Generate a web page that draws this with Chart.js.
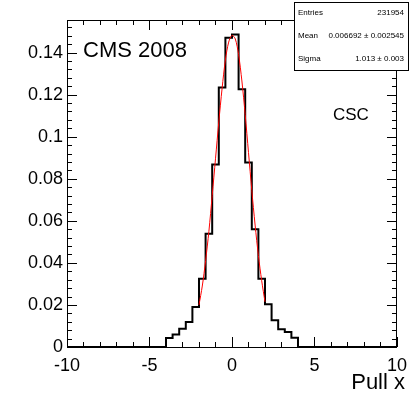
<!DOCTYPE html>
<html>
<head>
<meta charset="utf-8">
<script src="https://cdn.jsdelivr.net/npm/chart.js@4.4.1/dist/chart.umd.min.js"></script>
<style>
  body { margin: 0; background: #fff; }
</style>
</head>
<body>
<canvas id="pullChart" width="415" height="399"></canvas>
<script>
// histogram: low edge of each bin (0.4 wide) and its content, last point closes the line
const binLowEdges = [-10, -4.0, -3.6, -3.2, -2.8, -2.4, -2.0, -1.6, -1.2, -0.8, -0.4,
  0.0, 0.4, 0.8, 1.2, 1.6, 2.0, 2.4, 2.8, 3.2, 3.6, 4.0, 10];
const binContents = [0, 0.0043, 0.0059, 0.0087, 0.0119, 0.0190, 0.0325, 0.0539, 0.0868, 0.1234, 0.1470,
  0.1486, 0.1226, 0.0877, 0.0560, 0.0325, 0.0203, 0.0127, 0.0084, 0.0071, 0.0044, 0, 0];

// gaussian fit curve
const fitX = [-2.0, -1.8, -1.6, -1.4, -1.2, -1.0, -0.8, -0.6, -0.4, -0.2, 0.0,
  0.2, 0.4, 0.6, 0.8, 1.0, 1.2, 1.4, 1.6, 1.8, 2.0];
const fitY = [0.0200, 0.0290, 0.0410, 0.0550, 0.0720, 0.0895, 0.1070, 0.1230, 0.1365, 0.1450, 0.1482,
  0.1465, 0.1390, 0.1265, 0.1105, 0.0925, 0.0745, 0.0580, 0.0435, 0.0315, 0.0215];

const xTickValues = [-10, -5, 0, 5, 10];
const yTickValues = [0, 0.02, 0.04, 0.06, 0.08, 0.1, 0.12, 0.14];
const yMax = 0.1555;

const statsRows = [
  ['Entries', '231954'],
  ['Mean', '0.006692 \u00b1 0.002545'],
  ['Sigma', '1.013 \u00b1 0.003']
];

const FONT = "'Liberation Sans', Arial, Helvetica, sans-serif";

// ROOT-like frame: inward ticks on all four sides, stats box and labels
const rootFrame = {
  id: 'rootFrame',
  afterDatasetsDraw(chart) {
    const { ctx, chartArea: a, scales: { x, y } } = chart;
    ctx.save();
    ctx.strokeStyle = '#000';
    ctx.lineWidth = 1;
    ctx.strokeRect(a.left + 0.5, a.top + 0.5, a.right - a.left - 1, a.bottom - a.top);

    ctx.beginPath();
    for (let v = -10; v <= 10; v++) {
      const px = Math.round(x.getPixelForValue(v)) + 0.5;
      const len = xTickValues.includes(v) ? 10 : 5;
      ctx.moveTo(px, a.bottom); ctx.lineTo(px, a.bottom - len);
      ctx.moveTo(px, a.top); ctx.lineTo(px, a.top + len);
    }
    for (let k = 0; k * 0.004 <= yMax; k++) {
      const py = Math.round(y.getPixelForValue(k * 0.004)) + 0.5;
      const len = k % 5 === 0 ? 10 : 5;
      ctx.moveTo(a.left, py); ctx.lineTo(a.left + len, py);
      ctx.moveTo(a.right, py); ctx.lineTo(a.right - len, py);
    }
    ctx.stroke();

    ctx.fillStyle = '#000';
    ctx.textBaseline = 'middle';
    ctx.textAlign = 'left';
    ctx.font = '22px ' + FONT;
    ctx.fillText('CMS 2008', 83, 51);
    ctx.font = '17px ' + FONT;
    ctx.fillText('CSC', 333, 115);
    // axis title, right-aligned a little past the frame as in ROOT
    ctx.textAlign = 'right';
    ctx.font = '22px ' + FONT;
    ctx.fillText('Pull x', 405, 383);
    ctx.restore();
  },
  afterDraw(chart) {
    const { ctx } = chart;
    const bx = 294, by = 2, bw = 114, bh = 68;
    ctx.save();
    ctx.fillStyle = '#fff';
    ctx.fillRect(bx, by, bw, bh);
    ctx.strokeStyle = '#000';
    ctx.lineWidth = 1;
    ctx.strokeRect(bx + 0.5, by + 0.5, bw, bh);
    ctx.fillStyle = '#000';
    ctx.font = '8px ' + FONT;
    ctx.textBaseline = 'middle';
    statsRows.forEach((row, i) => {
      const ty = by + 11 + i * 23;
      ctx.textAlign = 'left';
      ctx.fillText(row[0], bx + 4, ty);
      ctx.textAlign = 'right';
      ctx.fillText(row[1], bx + bw - 4, ty);
    });
    ctx.restore();
  }
};

const ctx = document.getElementById('pullChart').getContext('2d');
new Chart(ctx, {
  type: 'line',
  data: {
    datasets: [{
      label: 'fit',
      data: fitX.map((v, i) => ({ x: v, y: fitY[i] })),
      borderColor: '#ff0000',
      borderWidth: 1,
      pointRadius: 0,
      tension: 0.3,
      fill: false
    }, {
      label: 'hist',
      data: binLowEdges.map((v, i) => ({ x: v, y: binContents[i] })),
      stepped: true,
      borderColor: '#000',
      borderWidth: 2,
      pointRadius: 0,
      fill: false,
      clip: false
    }]
  },
  options: {
    responsive: false,
    animation: false,
    devicePixelRatio: 1,
    layout: { padding: { top: 20, right: 15, left: 0, bottom: 0 } },
    plugins: {
      legend: { display: false },
      tooltip: { enabled: false }
    },
    scales: {
      x: {
        type: 'linear',
        min: -10,
        max: 10,
        afterBuildTicks: s => { s.ticks = xTickValues.map(v => ({ value: v })); },
        afterFit: s => { s.height = 52; },
        grid: { display: false, drawTicks: false },
        border: { display: false },
        ticks: {
          color: '#000',
          font: { family: FONT, size: 18 },
          padding: 8,
          maxRotation: 0,
          autoSkip: false,
          callback: v => String(v)
        }
      },
      y: {
        type: 'linear',
        min: 0,
        max: yMax,
        afterBuildTicks: s => { s.ticks = yTickValues.map(v => ({ value: v })); },
        afterFit: s => { s.width = 67; },
        grid: { display: false, drawTicks: false },
        border: { display: false },
        ticks: {
          color: '#000',
          font: { family: FONT, size: 18 },
          padding: 4,
          autoSkip: false,
          callback: v => v === 0 ? '0' : String(+v.toFixed(2))
        }
      }
    }
  },
  plugins: [rootFrame]
});
</script>
</body>
</html>
